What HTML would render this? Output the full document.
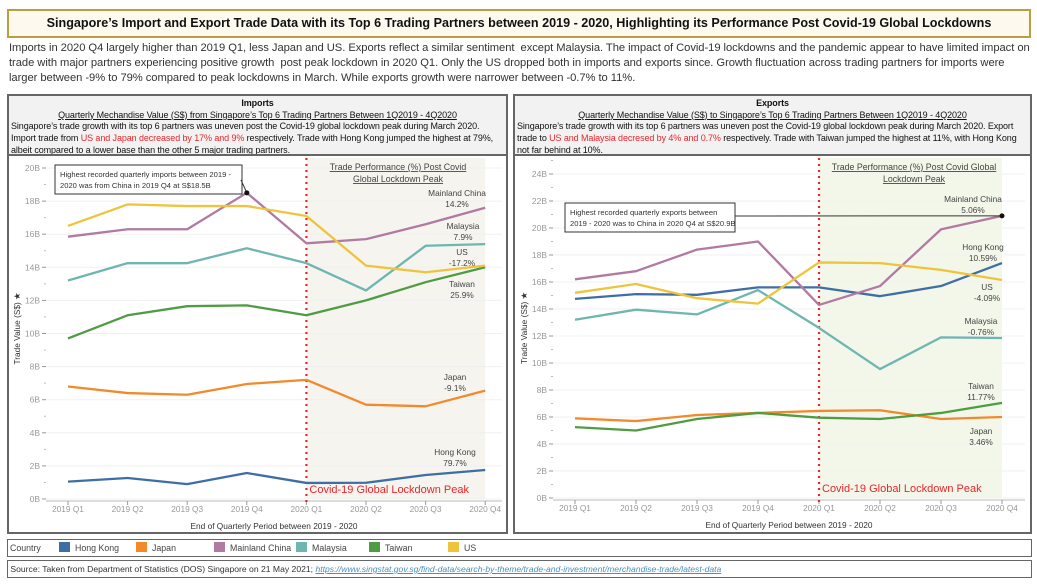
<!DOCTYPE html>
<html><head><meta charset="utf-8">
<style>
body{margin:0;width:1037px;height:585px;background:#fff;font-family:"Liberation Sans",sans-serif;position:relative;overflow:hidden;color:#222}
.abs{position:absolute}
#title{left:7px;top:9px;width:1020px;height:25px;border:2px solid #b8a042;background:#fdf9ee;text-align:center;font-size:12.6px;font-weight:bold;line-height:25px;color:#111;white-space:nowrap}
#intro{left:9px;top:41px;width:1022px;font-size:11.2px;line-height:15px;color:#333;letter-spacing:-0.05px;white-space:nowrap}
.panel{border:2px solid #666;top:94px;height:436px}
.phead{position:absolute;left:0;top:0;right:0;height:60px;background:#f2f2f2;border-bottom:2px solid #666;font-size:9px;line-height:11.7px;color:#111;padding:2px 2px 0 2px;box-sizing:border-box;letter-spacing:-0.1px;overflow:hidden;white-space:nowrap}
.phead .c{text-align:center}
.red{color:#e8262b}
#legend{left:7px;top:539px;width:1023px;height:16px;border:1px solid #666;font-size:8.8px;line-height:16px;color:#444}
#legend span{position:absolute;top:0;white-space:nowrap}
#source{left:7px;top:560px;width:1023px;height:16px;border:1px solid #666;font-size:8.6px;line-height:16px;color:#333;white-space:nowrap;overflow:hidden}
.sw{display:inline-block;width:11px;height:10px;vertical-align:-1px;margin-right:5px}
svg text{font-family:"Liberation Sans",sans-serif}
</style></head><body>
<div id="title" class="abs">Singapore’s Import and Export Trade Data with its Top 6 Trading Partners between 2019 - 2020, Highlighting its Performance Post Covid-19 Global Lockdowns</div>
<div id="intro" class="abs">Imports in 2020 Q4 largely higher than 2019 Q1, less Japan and US. Exports reflect a similar sentiment &nbsp;except Malaysia. The impact of Covid-19 lockdowns and the pandemic appear to have limited impact on<br>trade with major partners experiencing positive growth &nbsp;post peak lockdown in 2020 Q1. Only the US dropped both in imports and exports since. Growth fluctuation across trading partners for imports were<br>larger between -9% to 79% compared to peak lockdowns in March. While exports growth were narrower between -0.7% to 11%.</div>

<div class="abs panel" style="left:7px;width:497px">
 <div class="phead"><div class="c"><b>Imports</b></div><div class="c"><u>Quarterly Mechandise Value (S$) from Singapore’s Top 6 Trading Partners Between 1Q2019 - 4Q2020</u></div>Singapore’s trade growth with its top 6 partners was uneven post the Covid-19 global lockdown peak during March 2020.<br>Import trade from <span class="red">US and Japan decreased by 17% and 9%</span> respectively. Trade with Hong Kong jumped the highest at 79%,<br>albeit compared to a lower base than the other 5 major trading partners.</div>
</div>
<div class="abs panel" style="left:513px;width:515px">
 <div class="phead"><div class="c"><b>Exports</b></div><div class="c"><u>Quarterly Mechandise Value (S$) to Singapore’s Top 6 Trading Partners Between 1Q2019 - 4Q2020</u></div>Singapore’s trade growth with its top 6 partners was uneven post the Covid-19 global lockdown peak during March 2020. Export<br>trade to <span class="red">US and Malaysia decresed by 4% and 0.7%</span> respectively. Trade with Taiwan jumped the highest at 11%, with Hong Kong<br>not far behind at 10%.</div>
</div>

<svg id="chart" class="abs" style="left:0;top:0" width="1037" height="585"></svg>

<div id="legend" class="abs"><span style="left:2px">Country</span>
<span style="left:51px"><i class="sw" style="background:#3f6ea5"></i>Hong Kong</span>
<span style="left:128px"><i class="sw" style="background:#f28a2b"></i>Japan</span>
<span style="left:206px"><i class="sw" style="background:#b07aa1"></i>Mainland China</span>
<span style="left:288px"><i class="sw" style="background:#6fb6b0"></i>Malaysia</span>
<span style="left:361px"><i class="sw" style="background:#4f9c43"></i>Taiwan</span>
<span style="left:440px"><i class="sw" style="background:#eec43c"></i>US</span></div>
<div id="source" class="abs">&nbsp;Source: Taken from Department of Statistics (DOS) Singapore on 21 May 2021; <i style="color:#4a8fc0;text-decoration:underline">https://www.singstat.gov.sg/find-data/search-by-theme/trade-and-investment/merchandise-trade/latest-data</i></div>

<script>
const quarters=["2019 Q1","2019 Q2","2019 Q3","2019 Q4","2020 Q1","2020 Q2","2020 Q3","2020 Q4"];
const countries=["Hong Kong","Japan","Mainland China","Malaysia","Taiwan","US"];
const importHK=[1.05,1.27,0.9,1.57,0.97,0.98,1.45,1.75];
const importJapan=[6.8,6.4,6.3,6.95,7.2,5.7,5.6,6.55];
const importChina=[15.85,16.3,16.3,18.5,15.45,15.7,16.6,17.6];
const importMalaysia=[13.2,14.25,14.25,15.15,14.25,12.6,15.3,15.4];
const importTaiwan=[9.7,11.1,11.65,11.7,11.1,12.0,13.1,14.0];
const importUS=[16.5,17.8,17.7,17.7,17.1,14.1,13.7,14.1];
const exportHK=[14.75,15.1,15.05,15.6,15.6,14.95,15.7,17.4];
const exportJapan=[5.9,5.7,6.15,6.3,6.45,6.5,5.85,6.0];
const exportChina=[16.2,16.8,18.4,19.0,14.3,15.7,19.9,20.9];
const exportMalaysia=[13.2,13.95,13.6,15.4,12.6,9.55,11.9,11.85];
const exportTaiwan=[5.25,5.0,5.85,6.3,5.95,5.85,6.3,7.05];
const exportUS=[15.2,15.85,14.8,14.4,17.45,17.4,16.9,16.15];
const importTicks=[0,2,4,6,8,10,12,14,16,18,20];
const exportTicks=[0,2,4,6,8,10,12,14,16,18,20,22,24];
const colors=["#3f6ea5","#f28a2b","#b07aa1","#6fb6b0","#4f9c43","#eec43c"];

const svg=document.getElementById('chart');
const NS="http://www.w3.org/2000/svg";
function mk(tag,attrs,parent){const e=document.createElementNS(NS,tag);for(const k in attrs)e.setAttribute(k,attrs[k]);(parent||svg).appendChild(e);return e;}
function txt(x,y,s,attrs,parent){const t=mk('text',Object.assign({x:x,y:y,'font-size':9,fill:'#444'},attrs||{}),parent);t.textContent=s;return t;}

function drawChart(cfg){
  const g=mk('g',{});
  
  
  const X=i=>cfg.x0+i*cfg.dx, Y=v=>cfg.y0-v*cfg.dy;
  const sh=mk('rect',{x:X(4),y:cfg.top,width:X(7)-X(4),height:cfg.y0-cfg.top,fill:cfg.shade},g);
  
  
  cfg.ticks.forEach(t=>{
    mk('line',{x1:cfg.axisX,x2:cfg.right,y1:Y(t),y2:Y(t),stroke:'#f0f0f0','stroke-width':1},g);
    mk('line',{x1:cfg.axisX-4,x2:cfg.axisX,y1:Y(t),y2:Y(t),stroke:'#999'},g);
    mk('line',{x1:cfg.axisX-2,x2:cfg.axisX,y1:Y(t+1),y2:Y(t+1),stroke:'#bbb'},g);
    const l=txt(cfg.axisX-6,Y(t)+3,t+'B',{'text-anchor':'end',fill:'#999','font-size':8.5},g);
    
    
  });
  mk('line',{x1:cfg.axisX,x2:cfg.right,y1:cfg.y0+2,y2:cfg.y0+2,stroke:'#bbb'},g);
  quarters.forEach((q,i)=>{
    mk('line',{x1:X(i),x2:X(i),y1:cfg.y0+2,y2:cfg.y0+6,stroke:'#999'},g);
    const l=txt(X(i),cfg.y0+13,q,{'text-anchor':'middle',fill:'#999','font-size':8.3},g);
    
    
  });
  const xt=txt((cfg.axisX+cfg.right)/2,cfg.y0+30,'End of Quarterly Period between 2019 - 2020',{'text-anchor':'middle','font-size':8.3,fill:'#333'},g);
  
  
  const yt=txt(0,0,'Trade Value (S$) ★',{'text-anchor':'middle','font-size':8.3,fill:'#333',transform:`translate(${cfg.axisX-26},${(cfg.top+cfg.y0)/2}) rotate(-90)`},g);
  
  
  mk('line',{x1:X(4),x2:X(4),y1:cfg.top,y2:cfg.y0+4,stroke:'#e8262b','stroke-width':2.2,'stroke-dasharray':'2,4'},g);
  cfg.series.forEach((s,k)=>{
    const p=mk('polyline',{points:s.map((v,i)=>X(i)+','+Y(v)).join(' '),fill:'none',stroke:colors[k],'stroke-width':2.3,'stroke-linejoin':'round'},g);
    
    
  });
  const lk=txt(X(4)+3,cfg.y0-6,'Covid-19 Global Lockdown Peak',{fill:'#e8262b','font-size':11},g);
  
  
  return {g,X,Y};
}

const L=drawChart({name:'imports-chart',x0:68,dx:59.6,y0:499,dy:16.55,top:158,axisX:46,right:502,shade:'#f5f4ef',
  ticks:importTicks,series:[importHK,importJapan,importChina,importMalaysia,importTaiwan,importUS]});
const R=drawChart({name:'exports-chart',x0:575,dx:61,y0:498,dy:13.5,top:158,axisX:553,right:1025,shade:'#f3f7ea',
  ticks:exportTicks,series:[exportHK,exportJapan,exportChina,exportMalaysia,exportTaiwan,exportUS]});

function lbl(g,x,y,a,b,name){
  const t=txt(x,y,a,{'text-anchor':'middle','font-size':8.3,fill:'#444'},g);
  
  
  txt(x,y+11,b,{'text-anchor':'middle','font-size':8.3,fill:'#444'},g);
}
const lt=txt(398,170,'Trade Performance (%) Post Covid',{'text-anchor':'middle','font-size':8.8,fill:'#444','text-decoration':'underline'},L.g);


txt(398,182,'Global Lockdown Peak',{'text-anchor':'middle','font-size':8.8,fill:'#444','text-decoration':'underline'},L.g);
const rt=txt(914,170,'Trade Performance (%) Post Covid Global',{'text-anchor':'middle','font-size':8.8,fill:'#444','text-decoration':'underline'},R.g);


txt(914,182,'Lockdown Peak',{'text-anchor':'middle','font-size':8.8,fill:'#444','text-decoration':'underline'},R.g);

lbl(L.g,457,196,'Mainland China','14.2%','label-china-imports');
lbl(L.g,463,229,'Malaysia','7.9%','label-malaysia-imports');
lbl(L.g,462,255,'US','-17.2%','label-us-imports');
lbl(L.g,462,287,'Taiwan','25.9%','label-taiwan-imports');
lbl(L.g,455,380,'Japan','-9.1%','label-japan-imports');
lbl(L.g,455,455,'Hong Kong','79.7%','label-hk-imports');
lbl(R.g,973,202,'Mainland China','5.06%','label-china-exports');
lbl(R.g,983,250,'Hong Kong','10.59%','label-hk-exports');
lbl(R.g,987,290,'US','-4.09%','label-us-exports');
lbl(R.g,981,324,'Malaysia','-0.76%','label-malaysia-exports');
lbl(R.g,981,389,'Taiwan','11.77%','label-taiwan-exports');
lbl(R.g,981,434,'Japan','3.46%','label-japan-exports');

let a=mk('rect',{x:55,y:165,width:187,height:29,fill:'#fff',stroke:'#333'},L.g);


txt(60,177,'Highest recorded quarterly imports between 2019 -',{'font-size':7.6,fill:'#333'},L.g);
txt(60,188,'2020 was from China in 2019 Q4 at S$18.5B',{'font-size':7.6,fill:'#333'},L.g);
mk('line',{x1:241,y1:180,x2:L.X(3),y2:L.Y(importChina[3]),stroke:'#333'},L.g);
mk('circle',{cx:L.X(3),cy:L.Y(importChina[3]),r:2.5,fill:'#111'},L.g);

a=mk('rect',{x:565,y:203,width:170,height:29,fill:'#fff',stroke:'#333'},R.g);


txt(570,215,'Highest recorded quarterly exports between',{'font-size':7.6,fill:'#333'},R.g);
txt(570,226,'2019 - 2020 was to China in 2020 Q4 at S$20.9B',{'font-size':7.6,fill:'#333'},R.g);
mk('line',{x1:735,y1:216,x2:R.X(7),y2:R.Y(exportChina[7]),stroke:'#333'},R.g);
mk('circle',{cx:R.X(7),cy:R.Y(exportChina[7]),r:2.5,fill:'#111'},R.g);
</script>
</body></html>
